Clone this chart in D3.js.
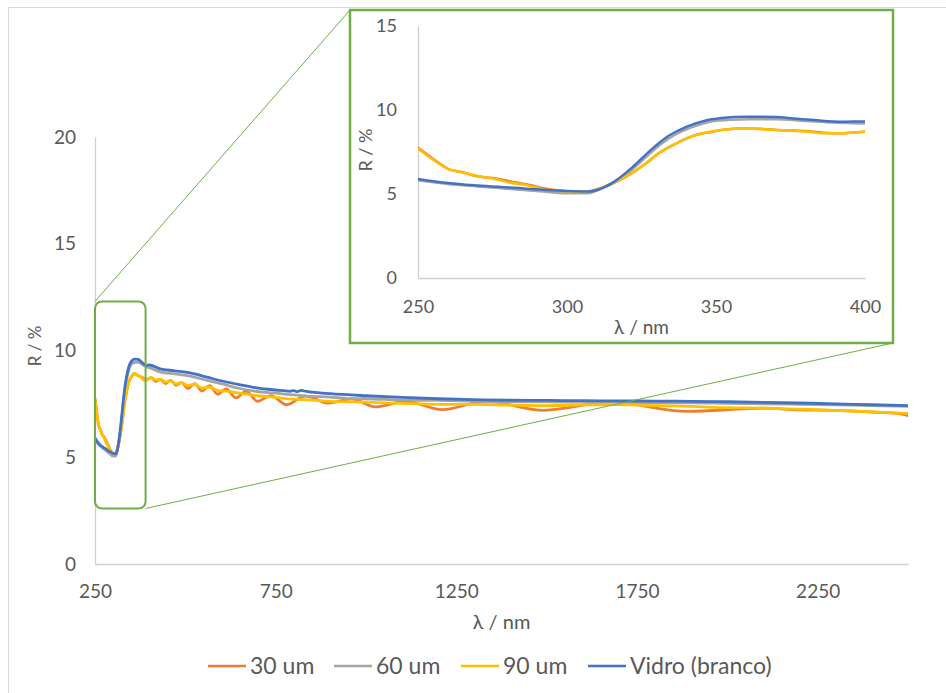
<!DOCTYPE html>
<html>
<head>
<meta charset="utf-8">
<script src="https://cdn.jsdelivr.net/npm/d3@7"></script>
<style>
  body { margin: 0; background: #fff; }
  text { font-family: Lato, Calibri, "Liberation Sans", sans-serif; fill: #595959; }
  .axis path { stroke: #d0d0d0; stroke-width: 1.3px; }
  .axis line { display: none; }
  .series { fill: none; stroke-linejoin: round; stroke-linecap: round; }
  .zoom { fill: none; stroke: #70ad47; }
</style>
</head>
<body>
<div id="chart"></div>
<script>
// [wavelength nm, R %]
var s30 = [
  [250, 7.75], [255, 7.1], [260, 6.5], [265, 6.3], [270, 6.05], [275, 5.95], [281, 5.75],
  [287, 5.55], [292, 5.35], [298, 5.2], [303, 5.12], [307, 5.1], [310, 5.25], [315, 5.6],
  [320, 6.05], [326, 6.75], [331, 7.45], [337, 8.05], [343, 8.5], [348, 8.68], [354, 8.85],
  [359, 8.92], [365, 8.88], [372, 8.8], [380, 8.75], [386, 8.65], [392, 8.62], [400, 8.7],
  [406, 8.72], [418, 8.55], [431, 8.65], [445, 8.45], [459, 8.6], [474, 8.38], [490, 8.5],
  [507, 8.22], [526, 8.45], [546, 8.1], [567, 8.35], [590, 7.95], [613, 8.2], [640, 7.78],
  [668, 8.1], [700, 7.62], [737, 7.89], [780, 7.46], [832, 7.86], [896, 7.54], [961, 7.73],
  [1026, 7.36], [1109, 7.62], [1211, 7.23], [1331, 7.62], [1492, 7.2], [1677, 7.58],
  [1889, 7.15], [2100, 7.3], [2200, 7.22], [2300, 7.2], [2400, 7.12], [2470, 7.05], [2500, 6.95]
];
var s60 = [
  [250, 5.82], [260, 5.6], [270, 5.45], [281, 5.3], [292, 5.15], [300, 5.05], [307, 5.05],
  [312, 5.35], [318, 5.9], [325, 6.95], [331, 7.9], [337, 8.6], [343, 9.05], [348, 9.3],
  [355, 9.42], [362, 9.45], [370, 9.45], [380, 9.35], [390, 9.25], [400, 9.2], [430, 9.0],
  [470, 8.9], [513, 8.8], [560, 8.6], [605, 8.42], [650, 8.22], [698, 8.08], [750, 8.0],
  [790, 7.93], [850, 7.85], [900, 7.82], [950, 7.75], [1000, 7.74], [1100, 7.68], [1200, 7.66],
  [1300, 7.63], [1400, 7.6], [1500, 7.6], [1600, 7.58], [1700, 7.56], [1800, 7.55],
  [1900, 7.55], [2000, 7.52], [2100, 7.5], [2200, 7.48], [2300, 7.45], [2400, 7.42], [2500, 7.38]
];
var s90 = [
  [250, 7.7], [255, 7.05], [260, 6.5], [265, 6.28], [270, 6.07], [275, 5.92], [281, 5.67],
  [287, 5.5], [292, 5.28], [298, 5.18], [303, 5.14], [307, 5.15], [310, 5.28], [315, 5.62],
  [320, 6.07], [326, 6.77], [331, 7.45], [337, 8.05], [343, 8.5], [348, 8.71], [354, 8.85],
  [359, 8.91], [365, 8.86], [372, 8.79], [380, 8.72], [386, 8.61], [392, 8.62], [400, 8.71],
  [406, 8.74], [418, 8.62], [431, 8.66], [445, 8.52], [459, 8.58], [474, 8.44], [490, 8.5],
  [507, 8.36], [526, 8.42], [546, 8.25], [567, 8.28], [590, 8.12], [613, 8.1], [650, 8.0],
  [700, 7.88], [750, 7.8], [800, 7.72], [850, 7.68], [900, 7.62], [1000, 7.58], [1100, 7.52],
  [1200, 7.48], [1300, 7.48], [1400, 7.44], [1500, 7.42], [1600, 7.45], [1700, 7.47],
  [1800, 7.42], [1900, 7.38], [2000, 7.32], [2100, 7.3], [2200, 7.25], [2300, 7.2],
  [2400, 7.13], [2500, 7.05]
];
var sGlass = [
  [250, 5.9], [260, 5.65], [270, 5.5], [281, 5.38], [292, 5.25], [300, 5.18], [307, 5.15],
  [311, 5.3], [316, 5.75], [322, 6.6], [328, 7.6], [334, 8.45], [340, 9.0], [346, 9.35],
  [352, 9.52], [360, 9.6], [370, 9.58], [376, 9.5], [383, 9.4], [392, 9.3], [400, 9.32],
  [430, 9.14], [470, 9.05], [513, 8.95], [560, 8.75], [605, 8.56], [650, 8.4], [698, 8.25],
  [750, 8.15], [790, 8.09], [800, 8.12], [810, 8.07], [820, 8.13], [835, 8.08],
  [850, 8.05], [900, 7.98], [1000, 7.88], [1100, 7.8], [1200, 7.74], [1300, 7.7], [1400, 7.67],
  [1500, 7.66], [1600, 7.65], [1700, 7.64], [1800, 7.63], [1900, 7.62], [2000, 7.6],
  [2100, 7.57], [2200, 7.54], [2300, 7.5], [2400, 7.46], [2500, 7.42]
];

var seriesData = [s30, s60, s90, sGlass];
var seriesNames = ["30 um", "60 um", "90 um", "Vidro (branco)"];
var seriesColors = ["#ed7d31", "#a5a5a5", "#ffc000", "#4472c4"];

var mainXTicks = [250, 750, 1250, 1750, 2250];
var mainYTicks = [0, 5, 10, 15, 20];
var insetXTicks = [250, 300, 350, 400];
var insetYTicks = [0, 5, 10, 15];

// zoomed region marked on the main chart
var zoomBox = { x0: 250, x1: 390, y0: 2.6, y1: 12.3 };

var svg = d3.select("#chart").append("svg")
    .attr("width", 946)
    .attr("height", 693);

// chart area border
svg.append("rect")
    .attr("x", 8.5).attr("y", 7.5)
    .attr("width", 1000).attr("height", 1000)
    .attr("fill", "#fff")
    .attr("stroke", "#d9d9d9");

function drawPanel(opt) {
  var x = d3.scaleLinear().domain(opt.xDomain).range([opt.left, opt.right]);
  var y = d3.scaleLinear().domain(opt.yDomain).range([opt.bottom, opt.top]);
  var g = svg.append("g");

  g.append("clipPath").attr("id", opt.id + "-clip")
    .append("rect")
      .attr("x", opt.left).attr("y", opt.top - 10)
      .attr("width", opt.right - opt.left).attr("height", opt.bottom - opt.top + 10);

  g.append("g")
      .attr("class", "axis")
      .attr("transform", "translate(0," + opt.bottom + ")")
      .call(d3.axisBottom(x).tickValues(opt.xTicks).tickSize(0).tickPadding(opt.xPad).tickFormat(d3.format("d")))
      .style("font-size", opt.font + "px");

  g.append("g")
      .attr("class", "axis")
      .attr("transform", "translate(" + opt.left + ",0)")
      .call(d3.axisLeft(y).tickValues(opt.yTicks).tickSize(0).tickPadding(opt.yPad))
      .style("font-size", opt.font + "px");

  g.append("text")
      .attr("x", (opt.left + opt.right) / 2)
      .attr("y", opt.xTitleY)
      .attr("text-anchor", "middle")
      .style("font-size", opt.titleFont + "px")
      .text("λ / nm");

  g.append("text")
      .attr("transform", "translate(" + opt.yTitleX + "," + opt.yTitleY + ") rotate(-90)")
      .attr("text-anchor", "middle")
      .style("font-size", opt.yTitleFont + "px")
      .text("R / %");

  var line = d3.line()
      .x(function(d) { return x(d[0]); })
      .y(function(d) { return y(d[1]); })
      .curve(d3.curveMonotoneX);

  var lines = g.append("g").attr("clip-path", "url(#" + opt.id + "-clip)");
  seriesData.forEach(function(data, i) {
    lines.append("path")
        .attr("class", "series")
        .attr("d", line(data))
        .attr("stroke", seriesColors[i])
        .attr("stroke-width", opt.lineWidth);
  });

  return { x: x, y: y };
}

// main chart
var main = drawPanel({
  id: "main", left: 95, right: 908, top: 137, bottom: 564,
  xDomain: [250, 2500], yDomain: [0, 20],
  xTicks: mainXTicks, yTicks: mainYTicks,
  font: 19, xPad: 21, yPad: 19, lineWidth: 2.8,
  titleFont: 20, yTitleFont: 17,
  xTitleY: 629, yTitleX: 41, yTitleY: 346
});

// zoom marker + connector lines
var inset = { left: 350, top: 10, right: 893, bottom: 343 };
var zx0 = main.x(zoomBox.x0), zx1 = main.x(zoomBox.x1);
var zy0 = main.y(zoomBox.y1), zy1 = main.y(zoomBox.y0);

svg.append("line").attr("class", "zoom").attr("stroke-width", 1)
    .attr("x1", zx0).attr("y1", zy0).attr("x2", inset.left).attr("y2", inset.top);
svg.append("line").attr("class", "zoom").attr("stroke-width", 1)
    .attr("x1", zx1).attr("y1", zy1).attr("x2", inset.right).attr("y2", inset.bottom);
svg.append("rect").attr("class", "zoom")
    .attr("x", zx0).attr("y", zy0)
    .attr("width", zx1 - zx0).attr("height", zy1 - zy0)
    .attr("rx", 7)
    .attr("stroke-width", 2);

// inset frame
svg.append("rect")
    .attr("x", inset.left).attr("y", inset.top)
    .attr("width", inset.right - inset.left).attr("height", inset.bottom - inset.top)
    .attr("fill", "#fff")
    .attr("stroke", "#70ad47")
    .attr("stroke-width", 2.5);

drawPanel({
  id: "inset", left: 418, right: 865, top: 26, bottom: 278,
  xDomain: [250, 400], yDomain: [0, 15],
  xTicks: insetXTicks, yTicks: insetYTicks,
  font: 18, xPad: 22, yPad: 21, lineWidth: 2.5,
  titleFont: 19, yTitleFont: 18,
  xTitleY: 334, yTitleX: 372, yTitleY: 150
});

// legend
var legendX = [208, 334, 461, 588];
var legend = svg.append("g").attr("transform", "translate(0,666)");
seriesNames.forEach(function(name, i) {
  legend.append("line")
      .attr("x1", legendX[i]).attr("x2", legendX[i] + 38)
      .attr("y1", 0).attr("y2", 0)
      .attr("stroke", seriesColors[i])
      .attr("stroke-width", 2.6);
  legend.append("text")
      .attr("x", legendX[i] + 42)
      .attr("y", 8)
      .style("font-size", "23px")
      .text(name);
});
</script>
</body>
</html>
